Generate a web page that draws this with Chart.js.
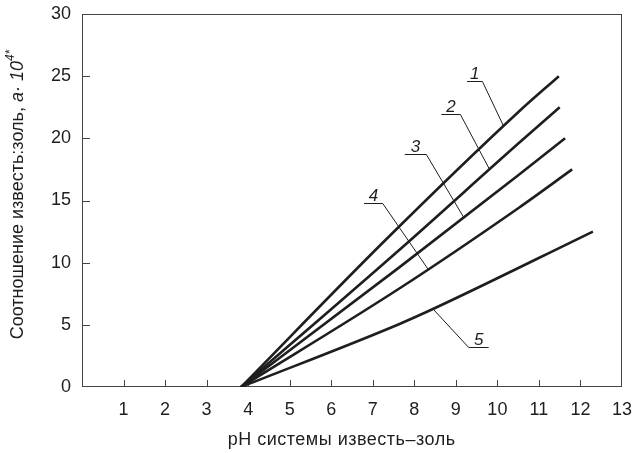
<!DOCTYPE html>
<html>
<head>
<meta charset="utf-8">
<script src="https://cdn.jsdelivr.net/npm/chart.js@4.4.1/dist/chart.umd.min.js"></script>
<style>
  html, body { margin: 0; padding: 0; background: #fff; }
  #wrap { width: 632px; height: 453px; }
</style>
</head>
<body>
<div id="wrap"><canvas id="chart" width="632" height="453"></canvas></div>
<script>
// pH of the lime–ash system (x) against lime:ash ratio, a·10^4 (y)
const curveNames = ['1', '2', '3', '4', '5'];
const ph1 = [3.83, 7.3, 10.5, 11.48];
const ratio1 = [0, 11.8, 22.1, 25];
const ph2 = [3.83, 7.63, 10.51, 11.5];
const ratio2 = [0, 11.0, 19.6, 22.5];
const ph3 = [3.83, 7.63, 10.51, 11.63];
const ratio3 = [0, 9.6, 17.05, 20];
const ph4 = [3.83, 7.63, 10.51, 11.8];
const ratio4 = [0, 7.9, 14.4, 17.5];
const ph5 = [3.83, 7.63, 8.5, 12.3];
const ratio5 = [0, 5.05, 6.35, 12.5];
const xTicks = [1, 2, 3, 4, 5, 6, 7, 8, 9, 10, 11, 12, 13];
const yTicks = [0, 5, 10, 15, 20, 25, 30];

const curves = [[ph1, ratio1], [ph2, ratio2], [ph3, ratio3], [ph4, ratio4], [ph5, ratio5]];

// callout placement for the curve numbers (axis units)
const callouts = [
  { under: [9.27, 9.64], at: 24.61, tip: 10.15, side: 'right' },
  { under: [8.65, 9.11], at: 21.93, tip: 9.81, side: 'right' },
  { under: [7.77, 8.29], at: 18.72, tip: 9.19, side: 'right' },
  { under: [6.79, 7.24], at: 14.82, tip: 8.33, side: 'right' },
  { under: [9.31, 9.79], at: 3.24, tip: 8.45, side: 'left' }
];

const ink = '#1e1e1e';
const frameColor = '#444';
const fontFamily = '"Liberation Sans", Arial, Helvetica, sans-serif';

function yOnCurve(i, x) {
  const xs = curves[i][0], ys = curves[i][1];
  for (let k = 1; k < xs.length; k++) {
    if (x <= xs[k]) {
      const t = (x - xs[k - 1]) / (xs[k] - xs[k - 1]);
      return ys[k - 1] + t * (ys[k] - ys[k - 1]);
    }
  }
  return ys[ys.length - 1];
}

const decor = {
  id: 'decor',
  beforeDatasetsDraw(chart) {
    const { ctx, chartArea: a, scales: { x, y } } = chart;
    ctx.save();
    ctx.strokeStyle = frameColor;
    ctx.lineWidth = 1;
    ctx.strokeRect(a.left + 0.5, a.top + 0.5, a.right - a.left - 1, a.bottom - a.top - 1);
    ctx.beginPath();
    xTicks.slice(0, -1).forEach(v => {
      const px = Math.round(x.getPixelForValue(v)) + 0.5;
      ctx.moveTo(px, a.bottom);
      ctx.lineTo(px, a.bottom - 7);
    });
    yTicks.slice(1, -1).forEach(v => {
      const py = Math.round(y.getPixelForValue(v)) + 0.5;
      ctx.moveTo(a.left, py);
      ctx.lineTo(a.left + 8, py);
    });
    ctx.stroke();
    ctx.restore();
  },
  afterDraw(chart) {
    const { ctx, chartArea: a, scales: { x, y } } = chart;
    ctx.save();
    ctx.fillStyle = ink;

    // x axis title
    ctx.font = '18px ' + fontFamily;
    ctx.letterSpacing = '0.5px';
    ctx.textAlign = 'center';
    ctx.textBaseline = 'middle';
    ctx.fillText('pH системы известь–золь', x.getPixelForValue(6.25), 440);

    // y axis title with italic a·10^4*
    ctx.letterSpacing = '0px';
    const parts = [
      { t: 'Соотношение известь:золь, ', f: '18px ' + fontFamily, dy: 0 },
      { t: 'a· 10', f: 'italic 18px ' + fontFamily, dy: 0 },
      { t: '4*', f: 'italic 12px ' + fontFamily, dy: -7 }
    ];
    let total = 0;
    parts.forEach(p => { ctx.font = p.f; p.w = ctx.measureText(p.t).width; total += p.w; });
    ctx.translate(18, (a.top + a.bottom) / 2 - 6);
    ctx.rotate(-Math.PI / 2);
    ctx.textAlign = 'left';
    let cx = -total / 2;
    parts.forEach(p => {
      ctx.font = p.f;
      ctx.fillText(p.t, cx, p.dy);
      cx += p.w;
    });
    ctx.restore();

    // curve numbers with leader lines
    ctx.save();
    ctx.strokeStyle = ink;
    ctx.fillStyle = ink;
    ctx.lineWidth = 1;
    ctx.font = 'italic 17px ' + fontFamily;
    ctx.textAlign = 'center';
    ctx.textBaseline = 'alphabetic';
    callouts.forEach((c, i) => {
      const x0 = x.getPixelForValue(c.under[0]);
      const x1 = x.getPixelForValue(c.under[1]);
      const py = Math.round(y.getPixelForValue(c.at)) + 0.5;
      const tx = x.getPixelForValue(c.tip);
      const ty = y.getPixelForValue(yOnCurve(i, c.tip));
      ctx.beginPath();
      ctx.moveTo(x0, py);
      ctx.lineTo(x1, py);
      if (c.side === 'right') ctx.moveTo(x1, py); else ctx.moveTo(x0, py);
      ctx.lineTo(tx, ty);
      ctx.stroke();
      ctx.fillText(curveNames[i], (x0 + x1) / 2, py - 3);
    });
    ctx.restore();
  }
};

new Chart(document.getElementById('chart'), {
  type: 'scatter',
  data: {
    datasets: curves.map((c, i) => ({
      label: curveNames[i],
      data: c[0].map((v, k) => ({ x: v, y: c[1][k] })),
      showLine: true,
      borderColor: ink,
      borderWidth: 2.6,
      pointRadius: 0,
      cubicInterpolationMode: 'monotone',
      fill: false
    }))
  },
  options: {
    responsive: false,
    animation: false,
    devicePixelRatio: 1,
    layout: { padding: { left: 0, right: 10, top: 14, bottom: 0 } },
    plugins: {
      legend: { display: false },
      tooltip: { enabled: false }
    },
    scales: {
      x: {
        type: 'linear',
        min: 0,
        max: 13,
        afterBuildTicks: s => { s.ticks = xTicks.map(v => ({ value: v })); },
        afterFit: s => { s.height = 66; s.paddingLeft = 0; s.paddingRight = 0; },
        grid: { display: false, drawTicks: false },
        border: { display: false },
        ticks: {
          color: ink,
          padding: 12,
          maxRotation: 0,
          font: { family: fontFamily, size: 18 }
        }
      },
      y: {
        min: 0,
        max: 30,
        afterBuildTicks: s => { s.ticks = yTicks.map(v => ({ value: v })); },
        afterFit: s => { s.width = 82; s.paddingTop = 0; s.paddingBottom = 0; },
        grid: { display: false, drawTicks: false },
        border: { display: false },
        ticks: {
          color: ink,
          padding: 11,
          font: { family: fontFamily, size: 18 }
        }
      }
    }
  },
  plugins: [decor]
});
</script>
</body>
</html>
